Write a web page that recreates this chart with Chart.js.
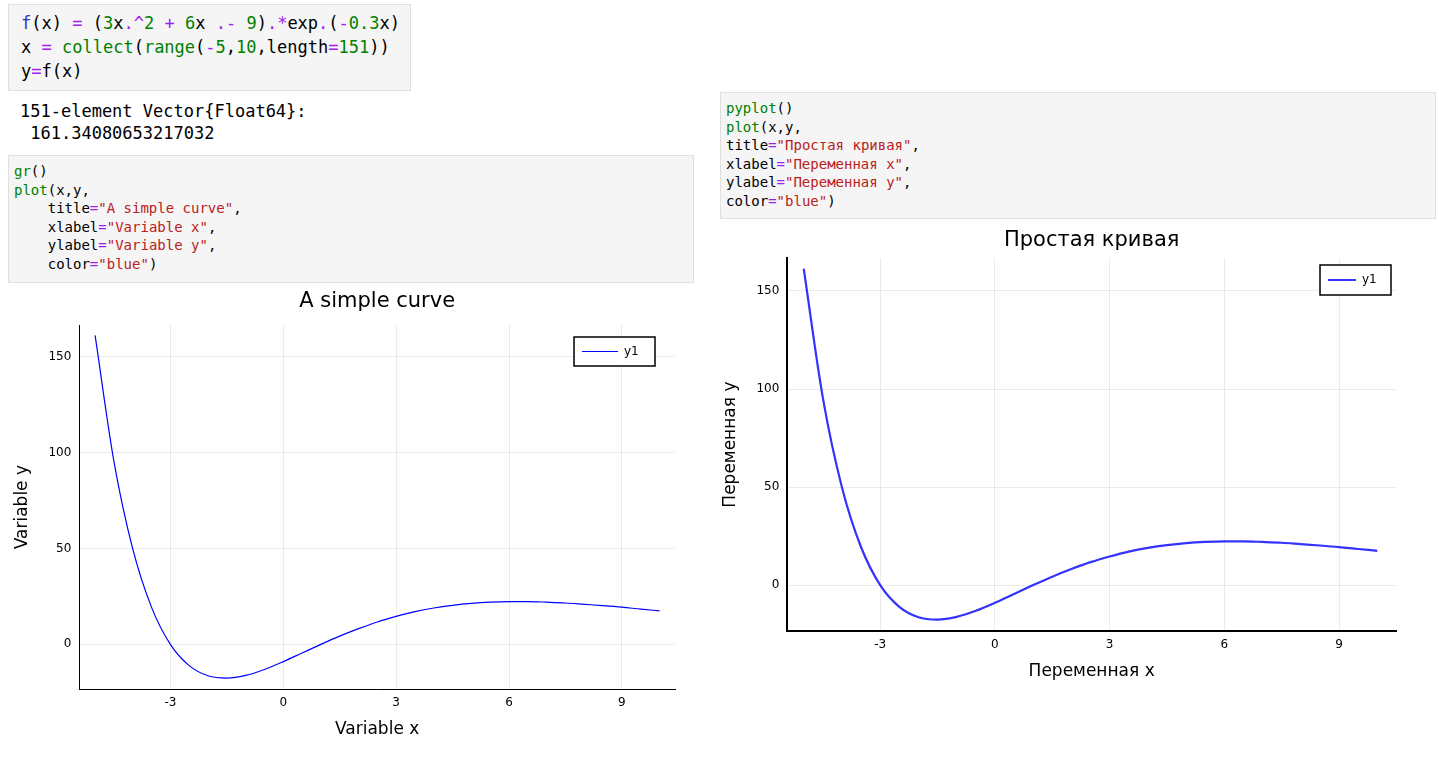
<!DOCTYPE html>
<html><head><meta charset="utf-8">
<script src="https://cdn.jsdelivr.net/npm/chart.js@4"></script>
<style>
body{margin:0;background:#fff;width:1439px;height:761px;position:relative;overflow:hidden;font-family:"DejaVu Sans Mono",monospace}
pre{margin:0;position:absolute;background:#f5f5f5;border:1px solid #e0e0e0;box-sizing:border-box;color:#000}
.k{color:#008000}.p{color:#a020f0}.n{color:#008000}.s{color:#ba2121}.f{color:#3030c0}
canvas{position:absolute}
</style></head><body>
<pre style="left:8px;top:4px;width:403px;height:87px;font-size:17px;line-height:24px;padding:6px 0 0 12px"><span class="f">f</span>(x) <span class="p">=</span> (<span class="n">3</span>x<span class="p">.^</span><span class="n">2</span> <span class="p">+</span> <span class="n">6</span>x <span class="p">.-</span> <span class="n">9</span>)<span class="p">.*</span>exp<span class="p">.</span>(<span class="p">-</span><span class="n">0.3</span>x)
x <span class="p">=</span> <span class="k">collect</span>(<span class="k">range</span>(<span class="p">-</span><span class="n">5</span>,<span class="n">10</span>,length<span class="p">=</span><span class="n">151</span>))
y<span class="p">=</span>f(x)</pre>
<pre style="left:8px;top:100px;background:none;border:none;font-size:17px;line-height:22px;padding-left:12px">151-element Vector{Float64}:
 161.34080653217032</pre>
<pre style="left:8px;top:155px;width:686px;height:128px;font-size:14px;line-height:18.5px;padding:6px 0 0 5px"><span class="k">gr</span>()
<span class="k">plot</span>(x,y,
    title<span class="p">=</span><span class="s">"A simple curve"</span>,
    xlabel<span class="p">=</span><span class="s">"Variable x"</span>,
    ylabel<span class="p">=</span><span class="s">"Variable y"</span>,
    color<span class="p">=</span><span class="s">"blue"</span>)</pre>
<pre style="left:720px;top:92px;width:716px;height:127px;font-size:14px;line-height:18.5px;padding:6px 0 0 5px"><span class="k">pyplot</span>()
<span class="k">plot</span>(x,y,
title<span class="p">=</span><span class="s">"Простая кривая"</span>,
xlabel<span class="p">=</span><span class="s">"Переменная x"</span>,
ylabel<span class="p">=</span><span class="s">"Переменная y"</span>,
color<span class="p">=</span><span class="s">"blue"</span>)</pre>
<canvas id="c1" style="left:8px;top:285px"></canvas>
<canvas id="c2" style="left:712px;top:219px"></canvas>
<script>
// values
const xs = [-5,-4.5,-4,-3.5,-3,-2.5,-2,-1.5,-1,-0.5,0,0.5,1,1.5,2,2.5,3,3.5,4,4.5,5,5.5,6,6.5,7,7.5,8,8.5,9,9.5,10];
const ys = [161.3,95.5,49.8,19.3,0,-11.1,-16.4,-17.6,-16.2,-13.1,-9,-4.5,0,4.3,8.2,11.7,14.6,17.1,19.0,20.4,21.4,22.0,22.3,22.3,22.0,21.6,20.9,20.2,19.4,18.4,17.5];
const xTicks = [-3,0,3,6,9];
const yTicks = [0,50,100,150];
const seriesName = 'y1';

// legend box + title centred over the plot area
const legendBox = {
  id: 'legendBox',
  afterDraw(chart, args, o) {
    const ctx = chart.ctx, a = chart.chartArea;
    ctx.save();
    ctx.fillStyle = '#000'; ctx.font = '21px "DejaVu Sans"'; ctx.textAlign = 'center'; ctx.textBaseline = 'middle';
    ctx.fillText(o.title, (a.left + a.right) / 2, o.ty);
    ctx.textAlign = 'left';
    const x = a.right - o.r - o.w, y = a.top + o.t;
    ctx.fillStyle = '#fff'; ctx.fillRect(x, y, o.w, o.h);
    ctx.strokeStyle = '#000'; ctx.lineWidth = 1.5; ctx.strokeRect(x, y, o.w, o.h);
    ctx.strokeStyle = o.color; ctx.lineWidth = o.lw;
    ctx.beginPath(); ctx.moveTo(x + 8, y + o.h / 2); ctx.lineTo(x + 8 + o.len, y + o.h / 2); ctx.stroke();
    ctx.fillStyle = '#000'; ctx.font = '12px "DejaVu Sans"';
    ctx.fillText(seriesName, x + 14 + o.len, y + o.h / 2);
    ctx.restore();
  }
};

function make(id, w, h, cfg) {
  const el = document.getElementById(id);
  el.width = w; el.height = h; el.style.width = w + 'px'; el.style.height = h + 'px';
  new Chart(el, {
    type: 'line',
    data: { datasets: [{ label: seriesName, data: xs.map((x, i) => ({ x, y: ys[i] })),
      borderColor: cfg.color, borderWidth: cfg.lw, pointRadius: 0, cubicInterpolationMode: 'monotone' }] },
    options: {
      responsive: false, animation: false, devicePixelRatio: 1,
      layout: { padding: cfg.pad },
      plugins: {
        legend: { display: false }, tooltip: { enabled: false },
        legendBox: cfg.legend
      },
      scales: {
        x: { type: 'linear', min: cfg.xr[0], max: cfg.xr[1],
          afterBuildTicks: s => { s.ticks = xTicks.map(v => ({ value: v })); },
          grid: { color: 'rgba(0,0,0,0.08)', drawTicks: false },
          border: { color: '#000', width: cfg.aw },
          ticks: { color: '#000', font: { size: 12, family: 'DejaVu Sans' }, padding: 6 },
          title: { display: true, text: cfg.xl, color: '#000', font: { size: 17, family: 'DejaVu Sans' }, padding: { top: 4 } } },
        y: { min: cfg.yr[0], max: cfg.yr[1],
          afterBuildTicks: s => { s.ticks = yTicks.map(v => ({ value: v })); },
          grid: { color: 'rgba(0,0,0,0.08)', drawTicks: false },
          border: { color: '#000', width: cfg.aw },
          ticks: { color: '#000', font: { size: 12, family: 'DejaVu Sans' }, padding: 8 },
          title: { display: true, text: cfg.yl, color: '#000', font: { size: 17, family: 'DejaVu Sans' }, padding: { bottom: 8 } } }
      }
    },
    plugins: [legendBox]
  });
}

make('c1', 690, 460, { xl: 'Variable x', yl: 'Variable y', color: '#0000ff', lw: 1.2, aw: 1,
  xr: [-5.42, 10.41], yr: [-23.4, 166.7], pad: { top: 40, left: 0, right: 23, bottom: 1 },
  legend: { title: 'A simple curve', ty: 17, w: 81, h: 29, r: 20, t: 12, color: '#0000ff', lw: 1, len: 36 } });
make('c2', 722, 471, { xl: 'Переменная x', yl: 'Переменная y', color: '#3333ff', lw: 2.2, aw: 2,
  xr: [-5.43, 10.49], yr: [-23.5, 166.8], pad: { top: 39, left: 4, right: 38, bottom: 4 },
  legend: { title: 'Простая кривая', ty: 22, w: 71, h: 30, r: 5, t: 7, color: '#3333ff', lw: 2, len: 28 } });
</script>
</body></html>
